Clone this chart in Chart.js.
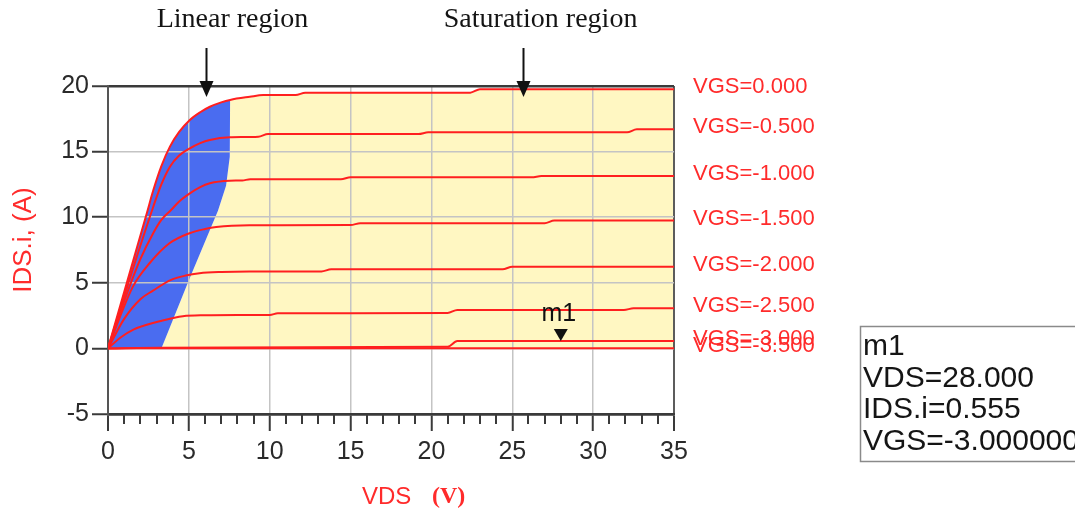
<!DOCTYPE html>
<html>
<head>
<meta charset="utf-8">
<title>IDS vs VDS</title>
<script src="https://cdn.jsdelivr.net/npm/chart.js@4.4.1/dist/chart.umd.min.js"></script>
<style>
  html, body { margin: 0; padding: 0; background: #ffffff; }
  canvas { display: block; }
</style>
</head>
<body>
<canvas id="ivChart" width="1075" height="518"></canvas>
<script>
// Gate voltages of the family of output curves
const vgsSteps = [0, -0.5, -1.0, -1.5, -2.0, -2.5, -3.0, -3.5];

// Drain current IDS (A) against drain voltage VDS (V), one list of [VDS, IDS] per gate voltage
const idsVgs0 = [[0,0],[1.2,5.15],[2.4,10.3],[2.8,12.05],[3.3,13.9],[3.83,15.38],[4.4,16.5],[5.06,17.41],[5.7,18.0],[6.3,18.42],[7.0,18.75],[7.55,18.94],[8.77,19.18],[9.6,19.31],[11.6,19.31],[12.2,19.49],[22.4,19.49],[23.0,19.75],[35,19.75]];
const idsVgsM05 = [[0,0],[1.2,4.75],[2.8,10.8],[3.3,12.5],[3.83,13.85],[4.4,14.7],[5.06,15.25],[5.7,15.65],[6.3,15.89],[7.53,16.09],[9.3,16.14],[9.9,16.34],[19.2,16.34],[19.8,16.47],[32.1,16.47],[32.7,16.7],[35,16.7]];
const idsVgsM10 = [[0,0],[1.0,3.6],[2.0,6.8],[2.8,8.8],[3.3,9.8],[3.9,10.55],[4.4,11.2],[5.06,11.82],[5.7,12.3],[6.3,12.59],[7.53,12.78],[8.3,12.8],[8.8,12.89],[14.4,12.89],[15.0,13.04],[26.2,13.04],[26.8,13.14],[35,13.14]];
const idsVgsM15 = [[0,0],[0.8,2.6],[1.54,4.71],[2.57,6.49],[3.8,8.01],[5.04,8.78],[6.0,9.1],[6.69,9.25],[8.74,9.38],[15.0,9.4],[15.6,9.54],[27.0,9.54],[27.6,9.74],[35,9.74]];
const idsVgsM20 = [[0,0],[1.0,2.25],[2.0,3.75],[2.78,4.4],[3.9,5.22],[4.8,5.55],[5.66,5.73],[7.0,5.83],[8.74,5.87],[13.2,5.87],[13.8,6.03],[24.4,6.03],[25.0,6.23],[35,6.23]];
const idsVgsM25 = [[0,0],[0.8,0.85],[1.6,1.45],[2.4,1.8],[3.19,2.07],[4.63,2.45],[6.0,2.53],[8.0,2.55],[10.0,2.55],[10.5,2.68],[21.0,2.7],[21.6,2.93],[31.9,2.93],[32.5,3.06],[35,3.06]];
const idsVgsM30 = [[0,0],[3.3,0.05],[21.0,0.12],[21.6,0.555],[28.0,0.555],[35,0.555]];
const idsVgsM35 = [[0,0],[3.3,0.01],[35,0.02]];
const idsSeries = [idsVgs0, idsVgsM05, idsVgsM10, idsVgsM15, idsVgsM20, idsVgsM25, idsVgsM30, idsVgsM35];

// Edge between the linear (ohmic) and saturation regions, from the top curve down to IDS = 0
const linearEdge = [[7.55,18.94],[7.53,14.6],[7.3,12.4],[6.8,10.5],[5.0,5.2],[3.3,0]];

// Axis ticks
const xTicks = [0, 5, 10, 15, 20, 25, 30, 35];
const yTicks = [-5, 0, 5, 10, 15, 20];

// Marker m1 readout
const markerName = 'm1';
const markerVds = 28.0;
const markerIds = 0.555;
const markerVgs = -3.0;

// ---------------------------------------------------------------------------
const SANS = "'Liberation Sans', Arial, sans-serif";
const SERIF = "'Liberation Serif', 'Times New Roman', serif";
const RED = '#ff1f1f';
const RED_TEXT = '#ff2b2b';

const toPoints = arr => arr.map(([x, y]) => ({ x, y }));

// Linear region polygon: along the VGS=0 curve, then back down the region edge
const edgeTop = linearEdge[0][0];
const linearPoly = idsVgs0.filter(p => p[0] < edgeTop).concat(linearEdge);
// Saturation region polygon: up the edge, along the VGS=0 curve, down to IDS=0 at the right
const satPoly = linearEdge.slice().reverse()
  .concat(idsVgs0.filter(p => p[0] > edgeTop))
  .concat([[xTicks[xTicks.length - 1], 0]]);

const curveSets = idsSeries.map((s, i) => ({
  label: 'VGS=' + vgsSteps[i].toFixed(3),
  data: toPoints(s),
  borderColor: RED,
  borderWidth: 2,
  pointRadius: 0,
  fill: false,
  cubicInterpolationMode: 'monotone',
  order: 0
}));

const regionSets = [
  { label: 'linear', data: toPoints(linearPoly), fill: 'shape', backgroundColor: '#4a6cf0',
    borderColor: 'transparent', borderWidth: 0, pointRadius: 0, order: 5 },
  { label: 'saturation', data: toPoints(satPoly), fill: 'shape', backgroundColor: '#fff7c2',
    borderColor: 'transparent', borderWidth: 0, pointRadius: 0, order: 6 }
];

// Texts and markers drawn around the plot
const annotations = {
  id: 'annotations',
  afterDraw(chart) {
    const { ctx, scales: { x, y } } = chart;
    ctx.save();

    // minor ticks on the VDS axis
    ctx.strokeStyle = '#3a3a3a';
    ctx.lineWidth = 2;
    for (let v = xTicks[0]; v <= xTicks[xTicks.length - 1]; v += 1) {
      if (v % 5 === 0) continue;
      const px = Math.round(x.getPixelForValue(v));
      ctx.beginPath();
      ctx.moveTo(px, y.bottom);
      ctx.lineTo(px, y.bottom + 10);
      ctx.stroke();
    }

    // curve labels at the right end of each curve
    ctx.font = '22px ' + SANS;
    ctx.fillStyle = RED_TEXT;
    ctx.textAlign = 'left';
    ctx.textBaseline = 'middle';
    idsSeries.forEach((s, i) => {
      const last = s[s.length - 1];
      ctx.fillText('VGS=' + vgsSteps[i].toFixed(3), x.right + 19, y.getPixelForValue(last[1]) - 2);
    });

    // region notes with arrows
    const notes = [
      { text: 'Linear region', arrowAt: 6.05, textAt: 7.7 },
      { text: 'Saturation region', arrowAt: 25.65, textAt: 26.75 }
    ];
    ctx.font = '28px ' + SERIF;
    ctx.textAlign = 'center';
    ctx.textBaseline = 'middle';
    notes.forEach(n => {
      ctx.fillStyle = '#141414';
      ctx.fillText(n.text, x.getPixelForValue(n.textAt), 20);
      const ax = Math.round(x.getPixelForValue(n.arrowAt)) + 0.5;
      const tip = y.top + 11;
      ctx.strokeStyle = '#111';
      ctx.lineWidth = 2;
      ctx.beginPath();
      ctx.moveTo(ax, 48);
      ctx.lineTo(ax, tip - 10);
      ctx.stroke();
      ctx.fillStyle = '#111';
      ctx.beginPath();
      ctx.moveTo(ax, tip);
      ctx.lineTo(ax - 7, tip - 16);
      ctx.lineTo(ax + 7, tip - 16);
      ctx.closePath();
      ctx.fill();
    });

    // marker m1 on the VGS=-3 curve
    const mx = x.getPixelForValue(markerVds);
    const my = y.getPixelForValue(markerIds);
    ctx.fillStyle = '#111';
    ctx.beginPath();
    ctx.moveTo(mx, my);
    ctx.lineTo(mx - 7, my - 12);
    ctx.lineTo(mx + 7, my - 12);
    ctx.closePath();
    ctx.fill();
    ctx.font = '25px ' + SANS;
    ctx.textAlign = 'center';
    ctx.textBaseline = 'alphabetic';
    ctx.fillText(markerName, mx - 2, my - 20);

    // marker readout box
    ctx.fillStyle = '#ffffff';
    ctx.fillRect(860, 326, 240, 135);
    ctx.strokeStyle = '#8a8a8a';
    ctx.lineWidth = 1.5;
    ctx.strokeRect(860.5, 326.5, 240, 135);
    ctx.fillStyle = '#151515';
    ctx.font = '30px ' + SANS;
    ctx.textAlign = 'left';
    ctx.textBaseline = 'middle';
    const rows = [
      markerName,
      'VDS=' + markerVds.toFixed(3),
      'IDS.i=' + markerIds.toFixed(3),
      'VGS=' + markerVgs.toFixed(6)
    ];
    rows.forEach((r, i) => ctx.fillText(r, 863, 347 + i * 31.5));

    // axis titles
    ctx.fillStyle = RED_TEXT;
    ctx.font = '24px ' + SANS;
    ctx.textAlign = 'left';
    ctx.fillText('VDS', 362, 497);
    ctx.font = 'bold 24px ' + SERIF;
    ctx.fillText('(V)', 432, 497);

    ctx.translate(24, 240);
    ctx.rotate(-Math.PI / 2);
    ctx.font = '26px ' + SANS;
    ctx.textAlign = 'center';
    ctx.fillText('IDS.i, (A)', 0, 0);

    ctx.restore();
  }
};

const isEdge = (v, a, b) => v === a || v === b;

new Chart(document.getElementById('ivChart'), {
  type: 'line',
  data: { datasets: curveSets.concat(regionSets) },
  options: {
    responsive: false,
    animation: false,
    events: [],
    layout: { padding: { left: 0, top: 86, right: 401, bottom: 0 } },
    plugins: {
      legend: { display: false },
      tooltip: { enabled: false },
      filler: { drawTime: 'beforeDraw' }
    },
    scales: {
      x: {
        type: 'linear',
        min: xTicks[0],
        max: xTicks[xTicks.length - 1],
        afterBuildTicks: s => { s.ticks = xTicks.map(v => ({ value: v })); },
        afterFit: s => { s.height = 104; },
        ticks: {
          color: '#2a2a2a',
          padding: 6,
          maxRotation: 0,
          autoSkip: false,
          font: { family: SANS, size: 25 }
        },
        grid: {
          color: c => isEdge(c.tick.value, 0, 35) ? '#5c5c5c' : '#c4c4c4',
          lineWidth: c => isEdge(c.tick.value, 0, 35) ? 2 : 1.5,
          tickColor: '#3a3a3a',
          tickWidth: 2,
          tickLength: 17
        },
        border: { display: true, color: '#3a3a3a', width: 2.5 }
      },
      y: {
        type: 'linear',
        min: yTicks[0],
        max: yTicks[yTicks.length - 1],
        afterBuildTicks: s => { s.ticks = yTicks.map(v => ({ value: v })); },
        afterFit: s => { s.width = 108; },
        ticks: {
          color: '#2a2a2a',
          padding: 3,
          font: { family: SANS, size: 25 }
        },
        grid: {
          color: c => isEdge(c.tick.value, -5, 20) ? '#3a3a3a' : '#c4c4c4',
          lineWidth: c => isEdge(c.tick.value, -5, 20) ? 2.5 : 1.5,
          tickColor: '#3a3a3a',
          tickWidth: 2,
          tickLength: 16
        },
        border: { display: true, color: '#555555', width: 2 }
      }
    }
  },
  plugins: [annotations]
});
</script>
</body>
</html>
